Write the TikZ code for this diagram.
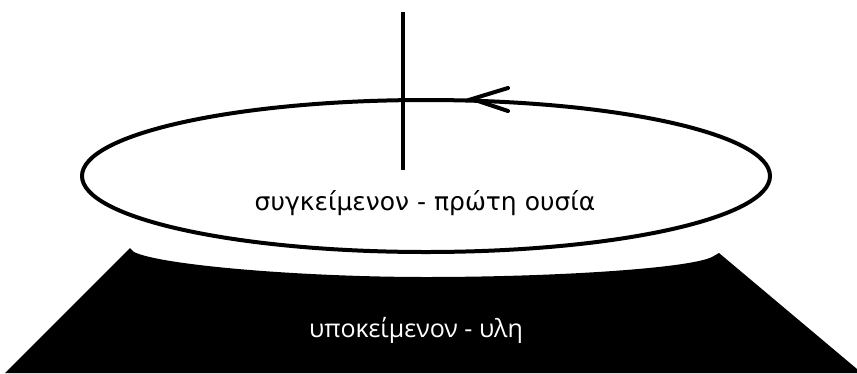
\documentclass[tikz,border=0pt]{standalone}
\usepackage{fontspec}
\setmainfont{DejaVu Sans}
\newfontfamily\lowfont{Open Sans}
\begin{document}
\begin{tikzpicture}[x=1pt,y=-1pt,
  ring/.style={line width=4pt},
  axisline/.style={line width=4.5pt},
  lbl/.style={inner sep=0pt, font=\fontsize{25}{28}\selectfont}]
\useasboundingbox (0,0) rectangle (857,373);
% base (black trapezoid)
\fill[black] (5,373) -- (130,248) -- (134,252)
  .. controls (160,265) and (300,277) .. (426,277)
  .. controls (560,277) and (690,268) .. (712,257)
  -- (719,253) -- (857,369) -- (857,373) -- cycle;
% ellipse
\draw[ring] (426,176) ellipse [x radius=344, y radius=76];
% vertical axis
\draw[axisline] (403,12) -- (403,170);
% arrowhead on ellipse
\coordinate (tip) at (472,99);
\draw[line width=4pt, line cap=round, line join=miter] (508,88) -- (tip) -- (508,111);
% labels
\node[lbl] (top) at (425,203) {συγκείμενον - πρώτη ουσία};
\node[lbl, text=white, font=\lowfont\fontsize{25}{28}\selectfont] (bottom) at (416,330) {υποκείμενον - υλη};
\end{tikzpicture}
\end{document}
